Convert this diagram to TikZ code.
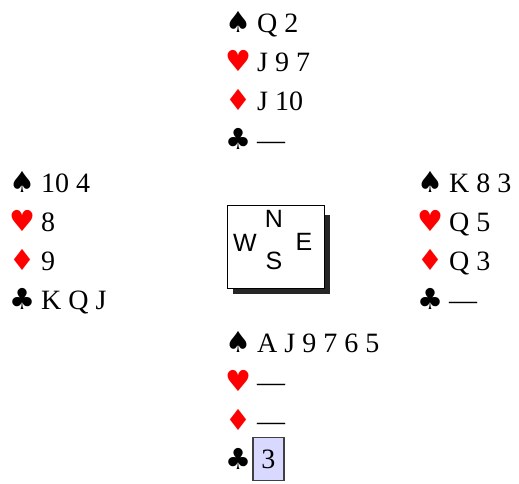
\documentclass[tikz,border=0pt]{standalone}
\usepackage{fontspec}
\setmainfont{Liberation Serif}
\setsansfont{Liberation Sans}
\newfontfamily\suitfont{DejaVu Sans}
\newcommand{\suitsize}{\fontsize{29}{32}\selectfont}
\newcommand{\spd}{{\suitfont\suitsize\char"2660}\hspace{6pt}}
\newcommand{\hrt}{{\suitfont\suitsize\color{red}\char"2665}\hspace{6pt}}
\newcommand{\dmd}{{\suitfont\suitsize\color{red}\char"2666}\hspace{6pt}}
\newcommand{\clb}{{\suitfont\suitsize\char"2663}\hspace{6pt}}
\tikzset{
	row/.style={anchor=base west, inner sep=0pt, font=\fontsize{28}{32}\selectfont},
	dir/.style={inner sep=0pt, font=\sffamily\fontsize{25}{28}\selectfont},
	played/.style={draw=black!75, line width=1.6pt, fill=blue!15, inner xsep=3pt,
		minimum width=31pt, minimum height=43pt, anchor=west, font=\fontsize{28}{32}\selectfont}
}
\begin{document}
\begin{tikzpicture}[x=1pt, y=-1pt]
			\useasboundingbox (0,0) rectangle (519,483);
			% north
			\node[row] (Nsp) at (225,32) {\spd Q 2};
			\node[row] (Nhe) at (225,71) {\hrt J 9 7};
			\node[row] (Ndi) at (225,110) {\dmd J 10};
			\node[row] (Ncl) at (225,149) {\clb ---};
			% west
			\node[row] (Wsp) at (9,192) {\spd 10 4};
			\node[row] (Whe) at (9,231) {\hrt 8};
			\node[row] (Wdi) at (9,270) {\dmd 9};
			\node[row] (Wcl) at (9,309) {\clb K Q J};
			% east
			\node[row] (Esp) at (417,192) {\spd K 8 3};
			\node[row] (Ehe) at (417,231) {\hrt Q 5};
			\node[row] (Edi) at (417,270) {\dmd Q 3};
			\node[row] (Ecl) at (417,309) {\clb ---};
			% south
			\node[row] (Ssp) at (225,352) {\spd A J 9 7 6 5};
			\node[row] (She) at (225,391) {\hrt ---};
			\node[row] (Sdi) at (225,430) {\dmd ---};
			\node[row] (Scl) at (225,469) {\clb};
			\node[played] (card) at (252,459) {3};
			% compass
			\fill[black!85] (233,215) rectangle (330,294);
			\draw[fill=white, line width=0.8pt] (227,205) rectangle (324,288);
			\node[dir] (dN) at (274,219) {N};
			\node[dir] (dW) at (245,243) {W};
			\node[dir] (dE) at (304,242) {E};
			\node[dir] (dS) at (274,261) {S};
		\end{tikzpicture}
\end{document}
